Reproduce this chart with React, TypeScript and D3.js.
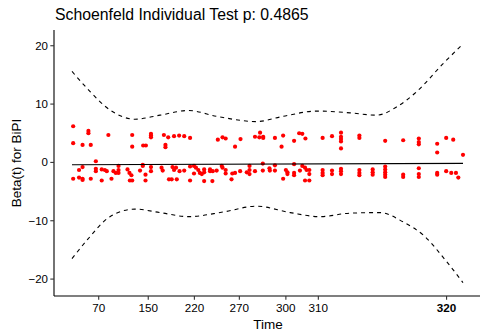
import React from "react";
import * as d3 from "d3";

// transformed time (0..100) and Beta(t) residuals
const upperT = [0.3,0.3,4.2,4.2,2.7,4.8,9.3,15.4,15.4,18.2,18.9,20.2,20.2,20.2,23.5,23.9,23.9,24.6,26.1,27.4,28.7,30.2,37.3,38.5,39.3,41.7,43.1,46.8,48.1,47.9,48.9,48.9,51.9,53.6,54.0,56.8,58.1,58.9,59.7,64.1,66.5,68.8,68.8,68.8,68.8,68.8,73.5,73.5,80.1,84.7,88.7,88.7,88.7,93.4,93.4,95.7,97.5,100];
const upperV = [6.2,3.3,5.4,5.0,3.0,3.0,4.7,4.7,2.7,2.9,2.9,4.9,4.6,4.3,4.7,3.0,2.6,4.3,4.5,4.6,4.5,4.2,3.9,4.3,4.1,2.7,4.0,4.4,5.1,4.3,4.2,4.4,4.2,2.7,4.6,3.7,5.0,4.9,4.1,4.2,4.5,5.1,4.4,4.0,3.6,2.4,4.6,4.2,3.7,3.8,4.1,3.5,3.1,3.2,1.7,4.2,3.9,1.3];
const lowerT = [0.3,1.8,1.8,2.7,2.7,2.7,4.8,6.1,6.1,6.1,7.6,7.6,8.4,8.9,10.1,10.6,11.2,11.9,11.9,11.9,14.2,14.7,14.8,15.4,15.2,17.4,18.1,18.1,18.8,18.8,20.2,20.2,22.9,23.2,24.8,25.5,25.7,26.1,26.6,26.8,27.5,28.7,30.2,30.2,31.2,31.2,31.7,32.3,32.7,33.2,33.8,33.8,33.8,35.3,35.3,35.9,36.0,37.0,38.3,38.5,39.3,39.3,40.8,41.0,41.7,43.0,44.7,45.4,45.4,45.4,46.8,48.8,48.8,50.5,50.6,51.9,51.9,54.0,54.7,55.1,55.1,56.8,56.8,56.8,58.3,58.9,59.6,59.6,60.7,60.0,60.7,60.7,64.1,64.1,64.1,66.5,66.5,68.8,68.8,68.8,73.5,73.5,73.5,76.9,76.9,76.9,80.1,80.1,80.1,80.1,80.1,84.7,84.7,88.7,88.7,88.7,93.4,93.4,95.7,97.0,98.2,98.8];
const lowerV = [-2.8,-1.3,-2.6,-2.8,-3.0,-0.8,-2.8,0.2,-1.1,-1.5,-1.2,-3.1,-1.3,-1.5,-2.8,-1.5,-1.8,-1.3,-1.8,-0.6,-1.2,-1.8,-3.1,-3.1,-2.2,-1.4,-0.6,-0.4,-2.1,-3.1,-0.8,-1.5,-0.9,-1.4,-2.9,-2.9,-0.8,-1.3,-0.9,-2.9,-1.5,-1.4,-0.7,-3.1,-0.6,-1.9,-0.9,-1.3,-1.8,-2.0,-1.2,-1.7,-3.2,-1.2,-1.5,-3.2,-1.5,-1.4,-0.6,-0.9,-1.3,-1.9,-2.9,-1.9,-1.8,-1.5,-1.7,-1.3,-0.6,-2.0,-1.5,-0.2,-1.4,-1.0,-1.4,-0.5,-1.4,-2.8,-1.3,-1.7,-2.0,-0.3,-1.8,-2.2,-1.4,-0.6,-0.9,-3.1,-3.1,-1.3,-1.3,-2.0,-1.3,-1.8,-2.2,-1.4,-2.0,-1.1,-1.5,-2.0,-1.3,-1.8,-2.2,-1.2,-1.7,-2.1,-0.7,-1.2,-1.7,-2.1,-2.5,-2.1,-2.5,-1.0,-2.0,-2.5,-1.8,-2.1,-1.5,-1.8,-1.8,-2.6];

// fitted beta(t) and confidence band
const fitT = [0, 100];
const fitV = [-0.4, -0.17];
const bandUpperT = [0, 4, 9.7, 16.1, 22.5, 29.8, 37.0, 47.2, 54.0, 62.6, 71.1, 77.9, 83.0, 88.1, 95.0, 100];
const bandUpperV = [15.6, 12.6, 9.0, 7.4, 8.1, 8.9, 7.9, 7.0, 7.9, 8.8, 8.5, 8.1, 9.5, 12.1, 17.0, 20.3];
const bandLowerT = [0, 4, 9.7, 16.1, 22.5, 29.8, 38.7, 47.2, 55.8, 63.4, 71.1, 78.8, 84.7, 89.9, 95.8, 100];
const bandLowerV = [-16.5, -13.2, -9.3, -8.0, -8.6, -9.3, -8.5, -7.5, -8.6, -9.3, -8.7, -8.6, -10.2, -12.5, -17.0, -20.6];

const xTickPos = [6.83, 19.5, 31.3, 42.8, 54.7, 63.0, 95.8];
const xTickLabels = ["70", "150", "220", "270", "300", "310", "320"];
const yTicks = [-20, -10, 0, 10, 20];

const title = "Schoenfeld Individual Test p: 0.4865";
const xTitle = "Time";
const yTitle = "Beta(t) for BiPI";

export default function App() {
  const W = 480, H = 336;
  const left = 54, bottom = 296, top = 30, right = 480;
  const x = d3.scaleLinear().domain([0, 100]).range([72, 463]);
  const y = d3.scaleLinear().domain([-22.9, 22.7]).range([bottom, top]);
  const font = "'Liberation Sans', Arial, Helvetica, sans-serif";

  const curve = (ts: number[], vs: number[]) =>
    d3.line<number>().x((_, i) => x(ts[i])).y((v) => y(v)).curve(d3.curveMonotoneX)(vs) || "";

  const pts: [number, number][] = [];
  upperT.forEach((t, i) => pts.push([t, upperV[i]]));
  lowerT.forEach((t, i) => pts.push([t, lowerV[i]]));

  return (
    <svg width={W} height={H} style={{ position: "absolute", left: 0, top: 0, background: "#fff" }} fontFamily={font}>
      <text x={55} y={19.5} fontSize={15.8} fill="#000">{title}</text>
      {/* points */}
      {pts.map((p, i) => (
        <circle key={i} cx={x(p[0])} cy={y(p[1])} r={2.1} fill="#ff0000" />
      ))}
      {/* fit */}
      <path d={curve(fitT, fitV)} fill="none" stroke="#000" strokeWidth={1.1} />
      <path d={curve(bandUpperT, bandUpperV)} fill="none" stroke="#000" strokeWidth={1.1} strokeDasharray="4,4" />
      <path d={curve(bandLowerT, bandLowerV)} fill="none" stroke="#000" strokeWidth={1.1} strokeDasharray="4,4" />
      {/* axes */}
      <line x1={left} x2={left} y1={top} y2={bottom} stroke="#000" strokeWidth={1.1} />
      <line x1={left} x2={right} y1={bottom} y2={bottom} stroke="#000" strokeWidth={1.1} />
      {yTicks.map((t) => (
        <g key={t}>
          <line x1={left - 3.7} x2={left} y1={y(t)} y2={y(t)} stroke="#333" strokeWidth={1.1} />
          <text x={left - 6} y={y(t)} dy="0.35em" textAnchor="end" fontSize={11.5} fill="#000">
            {t < 0 ? "\u2212" + Math.abs(t) : String(t)}
          </text>
        </g>
      ))}
      {xTickPos.map((t, i) => (
        <g key={i}>
          <line x1={x(t)} x2={x(t)} y1={bottom} y2={bottom + 3.7} stroke="#333" strokeWidth={1.1} />
          <text x={x(t)} y={312} textAnchor="middle" fontSize={11.7} fill="#000"
            fontWeight={i === xTickPos.length - 1 ? "bold" : "normal"}>{xTickLabels[i]}</text>
        </g>
      ))}
      <text x={268} y={328.5} textAnchor="middle" fontSize={13.5} fill="#000">{xTitle}</text>
      <text transform={`translate(21,163) rotate(-90)`} textAnchor="middle" fontSize={13.5} fill="#000">{yTitle}</text>
    </svg>
  );
}
